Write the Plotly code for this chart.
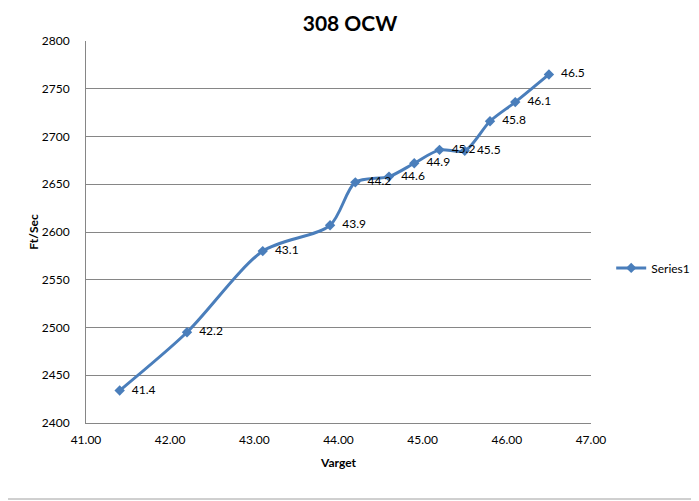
import plotly.graph_objects as go

varget = [41.4, 42.2, 43.1, 43.9, 44.2, 44.6, 44.9, 45.2, 45.5, 45.8, 46.1, 46.5]
fps = [2434, 2495, 2580, 2607, 2652, 2658, 2672, 2686, 2685, 2716, 2736, 2765]
labels = ["41.4", "42.2", "43.1", "43.9", "44.2", "44.6", "44.9", "45.2", "45.5", "45.8", "46.1", "46.5"]

FONT = "Lato"
BLUE = "#4A7EBB"
GRID = "#868686"

# page body has an 8px default margin, so the figure is sized to fit the 699x501 window
W, H = 691, 493
L, T, R, B = 78, 33, 108, 78

fig = go.Figure()
fig.add_trace(go.Scatter(
    x=varget, y=fps, name="Series1",
    mode="lines+markers+text",
    line=dict(color=BLUE, width=3, shape="spline", smoothing=0.8),
    marker=dict(symbol="diamond", size=8, color=BLUE),
    text=["\u00a0\u00a0" + s for s in labels], textposition="middle right",
    textfont=dict(family=FONT, size=12, color="#000000"),
    cliponaxis=False,
))

fig.update_layout(
    width=W, height=H,
    margin=dict(l=L, r=R, t=T, b=B, autoexpand=False),
    paper_bgcolor="white", plot_bgcolor="white",
    font=dict(family=FONT, size=12, color="#000000"),
    title=dict(text="<b>308 OCW</b>", x=342 / W, xanchor="center",
               y=1 - 16 / H, yanchor="middle",
               font=dict(family=FONT, size=21, color="#000000")),
    showlegend=True,
    legend=dict(x=1.04, xanchor="left", y=0.406, yanchor="middle",
                font=dict(family=FONT, size=12), bgcolor="rgba(0,0,0,0)",
                itemwidth=30),
    shapes=[dict(type="rect", xref="paper", yref="paper",
                 x0=-90 / 505, x1=1.4, y0=-76 / 382, y1=1.3,
                 line=dict(color="#A0A0A0", width=1), layer="below")],
)

fig.update_xaxes(
    range=[41, 47], dtick=1, tickformat=".2f",
    showgrid=False, zeroline=False, automargin=False,
    showline=True, linecolor=GRID, linewidth=1,
    ticks="outside", ticklen=0, ticklabelstandoff=6,
    title=dict(text="<b>Varget</b>", font=dict(family=FONT, size=12), standoff=12),
)
fig.update_yaxes(
    range=[2400, 2800], dtick=50, automargin=False,
    showgrid=True, gridcolor=GRID, gridwidth=1, zeroline=False,
    showline=True, linecolor=GRID, linewidth=1,
    ticks="outside", ticklen=0, ticklabelstandoff=13,
    title=dict(text="<b>Ft/Sec</b>", font=dict(family=FONT, size=12), standoff=0),
)

fig.write_html("out.html")
